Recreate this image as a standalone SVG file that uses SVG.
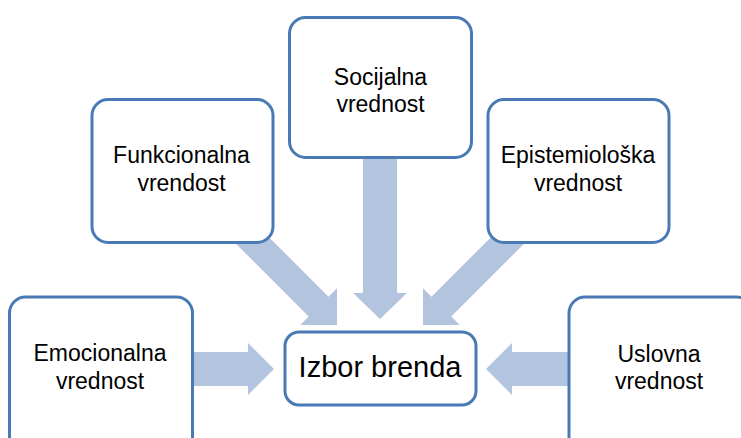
<svg xmlns="http://www.w3.org/2000/svg" width="741" height="438" viewBox="0 0 741 438">
  <style>
    .box { fill: #ffffff; stroke: #4a7ab5; stroke-width: 3; }
    .arrow { fill: #b3c4df; stroke: none; }
    text { font-family: "Liberation Sans", Arial, sans-serif; font-size: 23px; fill: #000000; text-anchor: middle; }
    .big { font-size: 29px; }
  </style>
  <rect width="741" height="438" fill="#ffffff"/>

  <!-- block arrows, drawn beneath the boxes -->
  <g id="connectors">
    <!-- Emocionalna -> Izbor -->
    <polygon class="arrow" points="180,352 248,352 248,343 274,369 248,395 248,386 180,386"/>
    <!-- Uslovna -> Izbor -->
    <polygon class="arrow" points="580,352 512,352 512,343 486,369 512,395 512,386 580,386"/>
    <!-- Socijalna -> Izbor -->
    <polygon class="arrow" points="363,140 397,140 397,293 407,293 380,319 353,293 363,293"/>
    <!-- Funkcionalna -> Izbor -->
    <polygon class="arrow" transform="translate(337,325) rotate(45)" points="-135,-14 -26,-14 -26,-26 0,0 -26,26 -26,14 -135,14"/>
    <!-- Epistemioloska -> Izbor -->
    <polygon class="arrow" transform="translate(423,325) rotate(135)" points="-135,-14 -26,-14 -26,-26 0,0 -26,26 -26,14 -135,14"/>
  </g>

  <g id="socijalna">
    <rect class="box" x="289.5" y="17.5" width="182" height="140" rx="16"/>
    <text x="380.5" y="85">Socijalna</text>
    <text x="380.5" y="112">vrednost</text>
  </g>

  <g id="funkcionalna">
    <rect class="box" x="92" y="99.5" width="181" height="143" rx="16"/>
    <text x="181.5" y="163">Funkcionalna</text>
    <text x="181.5" y="191">vrendost</text>
  </g>

  <g id="epistemioloska">
    <rect class="box" x="488" y="99.5" width="181" height="143" rx="16"/>
    <text x="578" y="163">Epistemiološka</text>
    <text x="578" y="191">vrednost</text>
  </g>

  <g id="emocionalna">
    <rect class="box" x="9.5" y="297" width="183" height="160" rx="16"/>
    <text x="100" y="361">Emocionalna</text>
    <text x="100" y="389">vrednost</text>
  </g>

  <g id="uslovna">
    <rect class="box" x="569" y="297" width="184" height="160" rx="16"/>
    <text x="659" y="362">Uslovna</text>
    <text x="659" y="389">vrednost</text>
  </g>

  <g id="izbor-brenda">
    <rect class="box" x="285" y="332" width="191" height="73" rx="14"/>
    <text class="big" x="380" y="377">Izbor brenda</text>
  </g>
</svg>
